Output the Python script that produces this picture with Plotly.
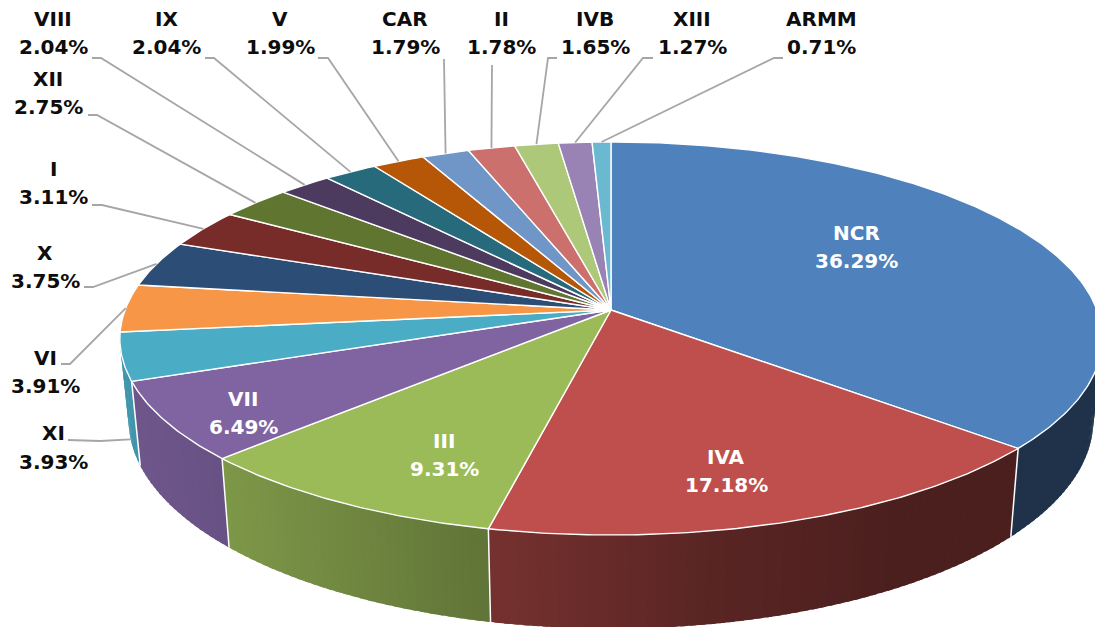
import numpy as np
import plotly.graph_objects as go

# ---- data ----
regions = ["NCR", "IVA", "III", "VII", "XI", "VI", "X", "I", "XII", "VIII", "IX", "V", "CAR", "II", "IVB", "XIII", "ARMM"]
shares = [36.29, 17.18, 9.31, 6.49, 3.93, 3.91, 3.75, 3.11, 2.75, 2.04, 2.04, 1.99, 1.79, 1.78, 1.65, 1.27, 0.71]

# ---- styles ----
colors = ["#4F81BD", "#BE4F4C", "#9BBB59", "#8064A2", "#4BACC6", "#F79646", "#2C4D75", "#772C2A", "#5F7530",
          "#4D3B5F", "#276A7C", "#B65708", "#7096C8", "#CC706D", "#ADC878", "#9983B5", "#6BB9D0"]
# text centre (x, first line y, second line y), for labels; inside=white
label_pos = {
    "NCR": (856, 233, 261), "IVA": (726, 457, 485), "III": (444, 441, 469), "VII": (243, 399, 427),
    "XI": (53, 433, 462), "VI": (45, 358, 386), "X": (45, 253, 281), "I": (53, 169, 197),
    "XII": (48, 79, 107), "VIII": (53, 19, 47), "IX": (166, 19, 47), "V": (280, 19, 47),
    "CAR": (405, 19, 47), "II": (501, 19, 47), "IVB": (595, 19, 47), "XIII": (692, 19, 47), "ARMM": (821, 19, 47),
}
inside = {"NCR", "IVA", "III", "VII"}
# leader elbows, from the label outward
elbows = {
    "XI": [(68, 440), (100, 441)], "VI": [(61, 364), (70, 364)], "X": [(84, 287), (93, 287)],
    "I": [(92, 205), (102, 205)], "XII": [(88, 115), (97, 115)], "VIII": [(92, 58), (101, 58)],
    "IX": [(205, 58), (214, 58)], "V": [(318, 58), (328, 58)], "CAR": [(444, 59)], "II": [(492, 65)],
    "IVB": [(557, 58), (548, 58)], "XIII": [(653, 58), (643, 58)], "ARMM": [(783, 58), (774, 58)],
}

# ---- perspective projection of the pie disc ----
CX, CY, A, B, P = 611.0, 310.0, 486.0, 192.4, 0.145
DEPTH, SHRINK = 80.0, 0.982


def top(t):
    X, Y = np.sin(t), -np.cos(t)
    d = 1 - P * Y
    return CX + A * X / d, CY + B * Y / d


def bottom(t):
    x, y = top(t)
    Y = -np.cos(t)
    return CX + SHRINK * (x - CX), y + DEPTH / (1 - P * Y)


def shade(hexcol, f):
    r, g, b = (int(hexcol[i:i + 2], 16) for i in (1, 3, 5))
    return f"rgb({r * f:.0f},{g * f:.0f},{b * f:.0f})"


total = sum(shares)
edges = np.cumsum([0] + shares) / total * 2 * np.pi
fig = go.Figure()


def poly(x, y, fill=None, line="rgba(0,0,0,0)", width=1.0):
    fig.add_trace(go.Scatter(x=list(x), y=list(y), mode="lines", hoverinfo="skip", showlegend=False,
                             fill="toself" if fill else "none", fillcolor=fill,
                             line=dict(color=line, width=width)))


# side wall (only the slices facing the viewer); each band overlaps the next one to hide seams
last_wall = regions.index("XI")
for i in range(last_wall + 1):
    a, b = max(edges[i], np.pi / 2), edges[i + 1]
    if b <= a:
        continue
    n = max(1, int(np.degrees(b - a) / 1.0))
    ts = np.linspace(a, b, n + 1)
    for t0, t1 in zip(ts[:-1], ts[1:]):
        seg = np.linspace(t0, t1 + np.radians(0.6), 3)
        xt, yt = top(seg)
        xb, yb = bottom(seg)
        off = float(top((t0 + t1) / 2)[0] - CX)
        f = np.interp(off, [-490, -390, -122, 100, 300, 490], [0.87, 0.81, 0.62, 0.47, 0.39, 0.39])
        c = shade(colors[i], float(f))
        poly(np.r_[xt, xb[::-1], xt[0]], np.r_[yt, yb[::-1], yt[0]], fill=c, line="rgba(0,0,0,0)", width=0)

# side separators
for e in edges[1:last_wall + 1]:
    if np.pi / 2 < e:
        xt, yt = top(e)
        xb, yb = bottom(e)
        poly([xt, xb], [yt, yb], line="#ffffff", width=1.5)

# top wedges
for i in range(len(shares)):
    ts = np.linspace(edges[i], edges[i + 1], max(3, int(np.degrees(edges[i + 1] - edges[i]) * 2)))
    xt, yt = top(ts)
    poly(np.r_[CX, xt, CX], np.r_[CY, yt, CY], fill=colors[i], line="#ffffff", width=1.4)

# leader lines
mids = (edges[:-1] + edges[1:]) / 2
for i, name in enumerate(regions):
    if name not in elbows:
        continue
    ex, ey = bottom(mids[i]) if name == "XI" else top(mids[i])
    pts = elbows[name] + [(float(ex), float(ey))]
    poly([p[0] for p in pts], [p[1] for p in pts], line="#a6a6a6", width=1.8)

# labels
FONT = "DejaVu Sans"
for name, v in zip(regions, shares):
    x, y1, y2 = label_pos[name]
    col = "#ffffff" if name in inside else "#0d0d0d"
    for text, y in ((name, y1), (f"{v:.2f}%", y2)):
        fig.add_annotation(x=x, y=y, text=f"<b>{text}</b>", showarrow=False, xanchor="center", yanchor="middle",
                           font=dict(family=FONT, size=20, color=col))

fig.update_layout(
    width=1095, height=627, margin=dict(l=0, r=0, t=0, b=0), paper_bgcolor="white", plot_bgcolor="white",
    showlegend=False,
    xaxis=dict(range=[0, 1095], visible=False, fixedrange=True),
    yaxis=dict(range=[627, 0], visible=False, fixedrange=True),
)
fig.write_html("out.html", config={"displayModeBar": False},
               post_script="document.body.style.margin='0';document.body.style.overflow='hidden';")
